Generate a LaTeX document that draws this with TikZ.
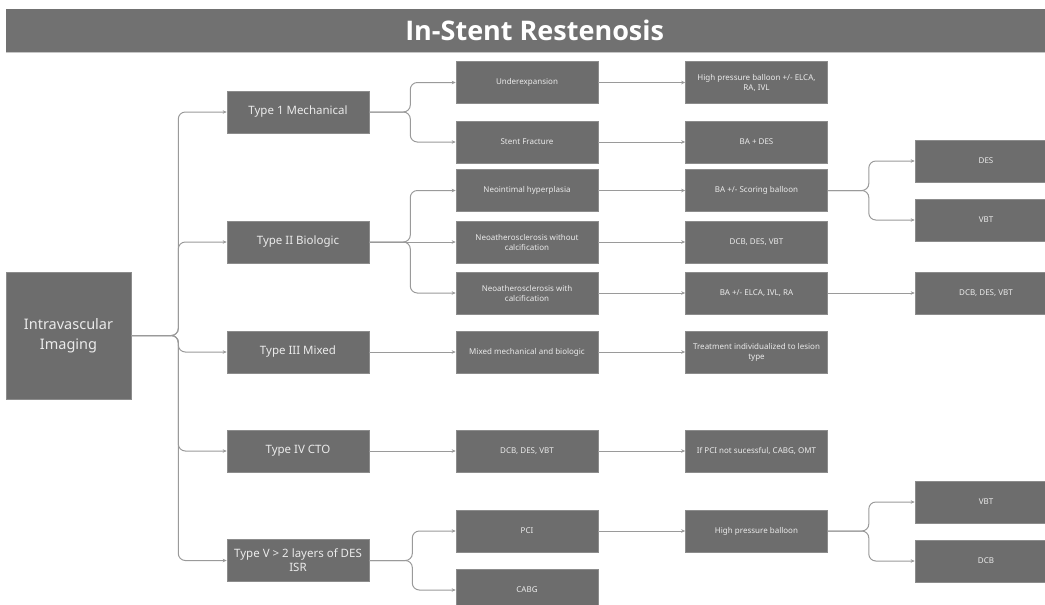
\documentclass[tikz,border=0pt]{standalone}
\usepackage{fontspec}
\setmainfont{Noto Sans}
\newfontfamily\titlefont{Open Sans}
\usetikzlibrary{arrows.meta}

\begin{document}
\begin{tikzpicture}[x = 1pt, y = -1pt,
		box/.style = {fill = boxGray, draw = boxEdge, line width = 0.6pt, text = white!92!black, minimum width = 142pt, minimum height = 42pt, inner sep = 1pt, align = center, font = \fontsize{8}{10}\selectfont},
		typebox/.style = {box, font = \fontsize{11.5}{14}\selectfont},
		conn/.style = {draw = lineGray, line width = 1pt, rounded corners = 7pt, -{Stealth[length = 4pt, width = 3.5pt]}}]
	\definecolor{boxGray}{HTML}{6D6D6D}
	\definecolor{boxEdge}{HTML}{8C8C8C}
	\definecolor{lineGray}{HTML}{9A9A9A}
	\definecolor{titleGray}{HTML}{717171}
	\useasboundingbox (0,0) rectangle (1045,605);
	
	\node[fill = titleGray, anchor = north west, minimum width = 1039pt, minimum height = 43pt, inner xsep = 0pt, inner ysep = 0pt, text = white, font = \titlefont\bfseries\fontsize{27}{30}\selectfont] (title) at (6,9) {\hspace{18pt}In-Stent Restenosis};
	\draw[gray!45, line width = 1.5pt] (title.south west) -- (title.south east);
	
	\node[box, minimum width = 125pt, minimum height = 127pt, font = \fontsize{14.5}{20}\selectfont] (iv) at (68.5,335.5) {Intravascular\\Imaging};
	
	\node[typebox] (t1) at (298,112) {Type 1 Mechanical};
	\node[typebox] (t2) at (298,242) {Type II Biologic};
	\node[typebox] (t3) at (298,352) {Type III Mixed};
	\node[typebox] (t4) at (298,451) {Type IV CTO};
	\node[typebox] (t5) at (298,560.5) {Type V > 2 layers of DES\\ISR};
	
	\node[box] (under) at (527,82.5) {Underexpansion};
	\node[box] (frac) at (527,142) {Stent Fracture};
	\node[box] (neo) at (527,190.5) {Neointimal hyperplasia};
	\node[box] (nwo) at (527,242) {Neoatherosclerosis without\\calcification};
	\node[box] (nwc) at (527,293) {Neoatherosclerosis with\\calcification};
	\node[box] (mix) at (527,352) {Mixed mechanical and biologic};
	\node[box] (m4) at (527,451) {DCB, DES, VBT};
	\node[box] (pci) at (527,531) {PCI};
	\node[box] (cabg) at (527,590) {CABG};
	
	\node[box] (r1) at (756.5,82.5) {High pressure balloon +/- ELCA,\\RA, IVL};
	\node[box] (r2) at (756.5,142) {BA + DES};
	\node[box] (r3) at (756.5,190.5) {BA +/- Scoring balloon};
	\node[box] (r4) at (756.5,242) {DCB, DES, VBT};
	\node[box] (r5) at (756.5,293) {BA +/- ELCA, IVL, RA};
	\node[box] (r6) at (756.5,352) {Treatment individualized to lesion\\type};
	\node[box] (r7) at (756.5,451) {If PCI not sucessful, CABG, OMT};
	\node[box] (r8) at (756.5,531) {High pressure balloon};
	
	\node[box] (des) at (986,161) {DES};
	\node[box] (vbt) at (986,220) {VBT};
	\node[box] (dcb) at (986,293) {DCB, DES, VBT};
	\node[box] (vbtb) at (986,502) {VBT};
	\node[box] (dcbb) at (986,561) {DCB};
	
	\foreach \c in {t1,t2,t3,t4,t5}{
		\draw[conn] (iv.east) -- ++(47,0) |- (\c.west);
	}
	\foreach \c in {under,frac}{
		\draw[conn] (t1.east) -- ++(41,0) |- (\c.west);
	}
	\foreach \c in {neo,nwc}{
		\draw[conn] (t2.east) -- ++(41,0) |- (\c.west);
	}
	\foreach \c in {pci,cabg}{
		\draw[conn] (t5.east) -- ++(43,0) |- (\c.west);
	}
	\foreach \c in {des,vbt}{
		\draw[conn] (r3.east) -- ++(41,0) |- (\c.west);
	}
	\foreach \c in {vbtb,dcbb}{
		\draw[conn] (r8.east) -- ++(41,0) |- (\c.west);
	}
	\foreach \a/\b in {t2/nwo, t3/mix, t4/m4, under/r1, frac/r2, neo/r3, nwo/r4, nwc/r5, mix/r6, m4/r7, pci/r8, r5/dcb}{
		\draw[conn] (\a) -- (\b);
	}
\end{tikzpicture}
\end{document}
